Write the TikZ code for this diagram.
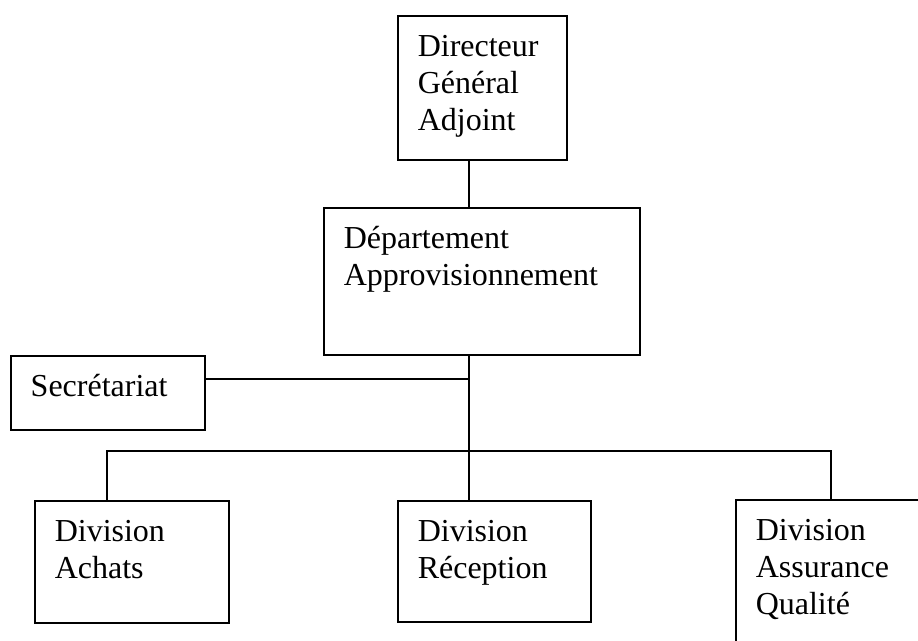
\documentclass[tikz,border=0pt]{standalone}
\usepackage{fontspec}
\setmainfont{Liberation Serif}
% text block of a box: width, height, lines (first baseline 41pt below the top, 20pt left inset)
\newcommand\orgtext[3]{\parbox[c][#2][t]{#1}{\fontsize{32}{37}\selectfont\raggedright\leftskip=20pt\relax\rule{0pt}{41pt}#3}}
\begin{document}
\begin{tikzpicture}[x=1pt,y=-1pt,
  orgbox/.style={draw,line width=1.5pt,inner sep=0pt,anchor=north west},
  link/.style={line width=1.5pt}]
\useasboundingbox (0,0) rectangle (918,640);
\clip (0,0) rectangle (918,640);

% boxes
\node[orgbox] (dga)  at (397,15)  {\orgtext{169pt}{144pt}{Directeur\\Général\\Adjoint}};
\node[orgbox] (dept) at (323,207) {\orgtext{316pt}{147pt}{Département\\Approvisionnement}};
\node[orgbox] (secr) at (10,355)  {\orgtext{194pt}{74pt}{Secrétariat}};
\node[orgbox] (ach)  at (34,500)  {\orgtext{194pt}{122pt}{Division\\Achats}};
\node[orgbox] (rec)  at (397,500) {\orgtext{193pt}{121pt}{Division\\Réception}};
\node[orgbox] (qual) at (735,499) {\orgtext{200pt}{170pt}{Division\\Assurance\\Qualité}};

% junction points of the connectors
\coordinate (trunk) at (469,0);
\coordinate (sj)    at (469,379);
\coordinate (barL)  at (107,451);
\coordinate (barR)  at (831,451);

% connectors
\draw[link] (dga.south -| trunk) -- (dept.north -| trunk);
\draw[link] (dept.south -| trunk) -- (rec.north -| trunk);
\draw[link] (secr.east |- sj) -- (sj);
\draw[link] (ach.north -| barL) -- (barL) -- (barR) -- (qual.north -| barR);
\end{tikzpicture}
\end{document}
